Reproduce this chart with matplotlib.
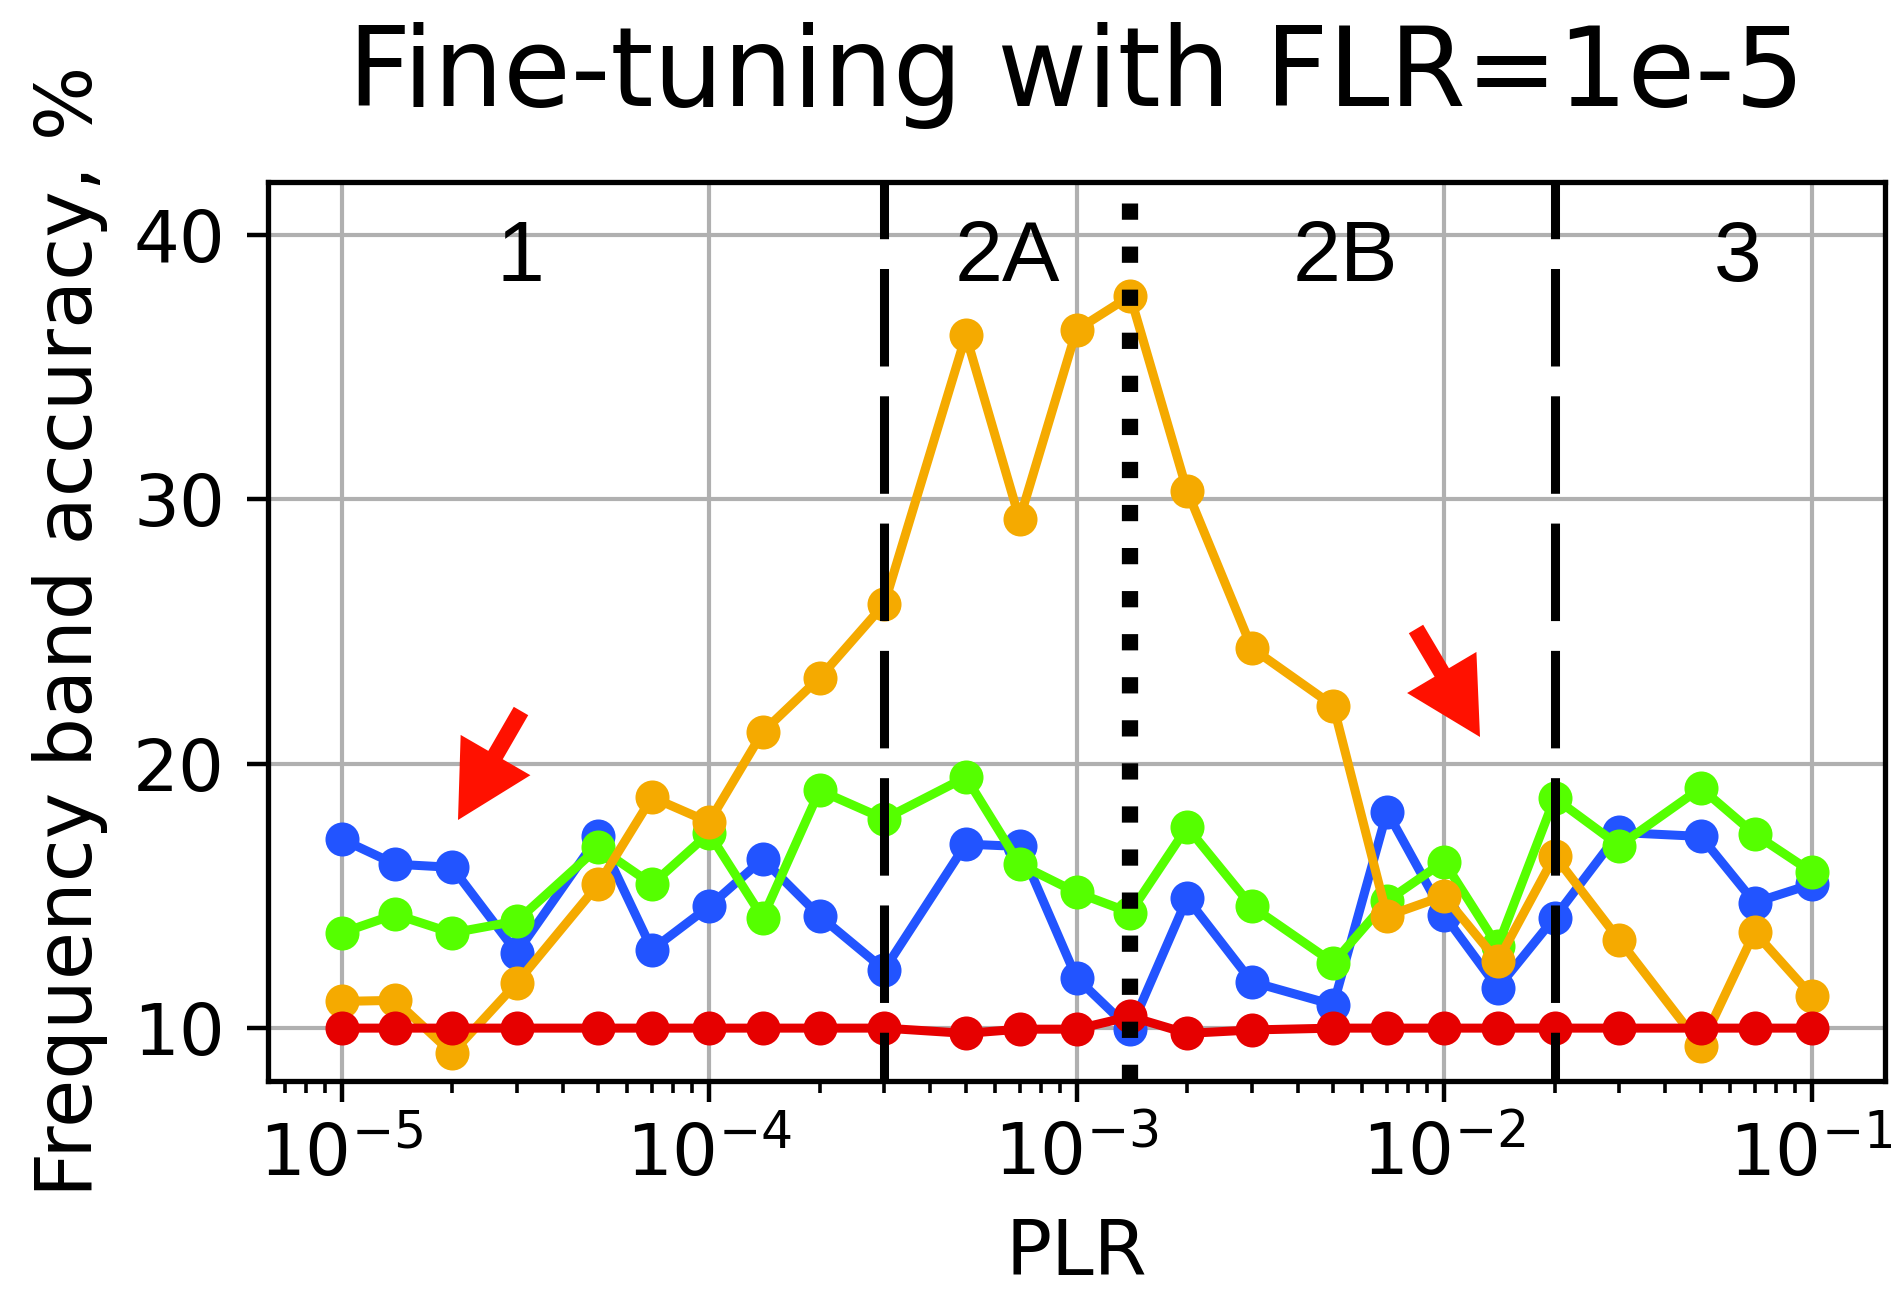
import matplotlib
matplotlib.use("Agg")
import matplotlib.pyplot as plt

# Pre-training learning rate sweep
plr = [1e-5, 1.4e-5, 2e-5, 3e-5, 5e-5, 7e-5, 1e-4, 1.4e-4, 2e-4, 3e-4,
       5e-4, 7e-4, 1e-3, 1.4e-3, 2e-3, 3e-3, 5e-3, 7e-3, 1e-2, 1.4e-2,
       2e-2, 3e-2, 5e-2, 7e-2, 1e-1]

# Frequency band accuracy (%) per band
acc_blue = [17.15, 16.2, 16.08, 12.85, 17.25, 12.97, 14.6, 16.39, 14.24, 12.21,
            16.96, 16.87, 11.9, 9.95, 14.91, 11.75, 10.88, 18.19, 14.28, 11.52,
            14.18, 17.4, 17.25, 14.75, 15.44]
acc_green = [13.6, 14.3, 13.6, 14.05, 16.84, 15.44, 17.37, 14.18, 18.99, 17.91,
             19.49, 16.2, 15.13, 14.37, 17.6, 14.6, 12.47, 14.81, 16.3, 13.1,
             18.7, 16.9, 19.08, 17.34, 15.91]
acc_orange = [11.01, 11.05, 9.05, 11.71, 15.44, 18.73, 17.79, 21.2, 23.25, 26.04,
              36.2, 29.24, 36.4, 37.69, 30.32, 24.37, 22.19, 14.24, 15.0, 12.53,
              16.52, 13.33, 9.33, 13.63, 11.23]
acc_red = [10.0, 10.0, 10.0, 10.0, 10.0, 10.0, 10.0, 10.0, 10.0, 10.0,
           9.8, 9.96, 9.96, 10.44, 9.8, 9.93, 10.0, 10.0, 10.0, 10.0,
           10.0, 10.0, 10.0, 10.0, 10.0]

series = [acc_blue, acc_green, acc_orange, acc_red]
series_colors = ["#2254ff", "#55ff00", "#f5aa00", "#e60000"]

# Regime boundaries and labels
regime_bounds = [3e-4, 2e-2]
regime_split = 1.4e-3
regime_names = ["1", "2A", "2B", "3"]
regime_label_x = [3.06e-5, 6.48e-4, 5.39e-3, 6.3e-2]
regime_label_y = 38.27

W, H = 1891, 1293
fig = plt.figure(figsize=(W / 100, H / 100), dpi=100)
ax = fig.add_axes([268 / W, 1 - 1081 / H, (1885 - 268) / W, (1081 - 182) / H])

ax.set_xscale("log")
ax.grid(True, which="major", color="#b0b0b0", linewidth=3.0, zorder=0)
ax.set_axisbelow(True)

for vals, col in zip(series, series_colors):
    ax.plot(plr, vals, color=col, linewidth=6.5, marker="o", markersize=23,
            markeredgewidth=1.5, zorder=3)

for xb in regime_bounds:
    ax.axvline(xb, color="black", linewidth=6.5,
               linestyle=(5.4, (10.8, 3.3)), zorder=5)
ax.axvline(regime_split, color="black", linewidth=11.7, linestyle=":", zorder=5)

for name, xl in zip(regime_names, regime_label_x):
    ax.text(xl, regime_label_y, name, ha="center", va="baseline",
            fontsize=62, family="Liberation Sans", zorder=6)

ax.set_xlim(10 ** -5.2, 10 ** -0.8)
ax.set_ylim(8, 42)
ax.set_yticks([10, 20, 30, 40])

for sp in ax.spines.values():
    sp.set_linewidth(3.8)

ax.tick_params(which="major", length=15, width=3.2, labelsize=52, pad=12)
ax.tick_params(which="minor", length=8.5, width=2.6)
ax.tick_params(axis="y", pad=16)

ax.set_title("Fine-tuning with FLR=1e-5", fontsize=79, pad=55)
ax.set_xlabel("PLR", fontsize=55, labelpad=19)
ax.set_ylabel("Frequency band accuracy, %", fontsize=56.5, labelpad=18)

# Red pointer arrows
arrow_kw = dict(facecolor="#ff1100", edgecolor="none", width=12,
                headwidth=58, headlength=54, shrink=0)
ax.annotate("", xy=(458, H - 820), xytext=(521, H - 711),
            xycoords="figure pixels", textcoords="figure pixels",
            arrowprops=arrow_kw, zorder=7)
ax.annotate("", xy=(1480, H - 737), xytext=(1416, H - 629),
            xycoords="figure pixels", textcoords="figure pixels",
            arrowprops=arrow_kw, zorder=7)

fig.savefig("out.png", dpi=100)
